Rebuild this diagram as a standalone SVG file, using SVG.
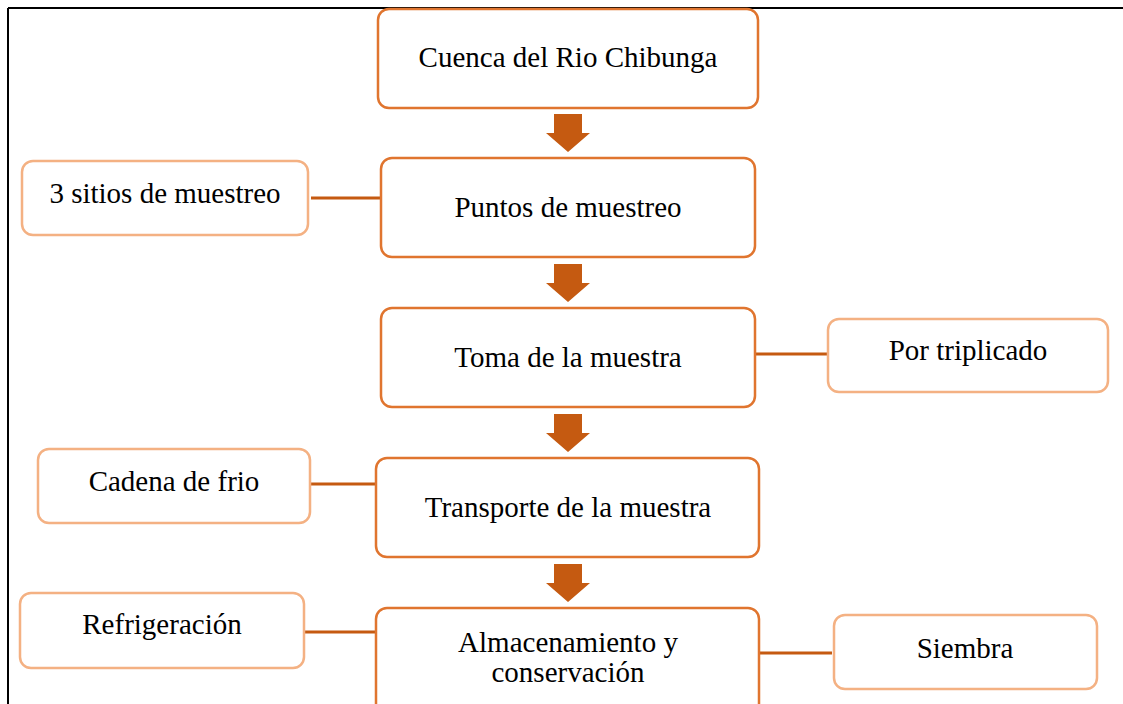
<svg xmlns="http://www.w3.org/2000/svg" width="1123" height="704" viewBox="0 0 1123 704">
<style>
.main{fill:#fff;stroke:#E0752F;stroke-width:2.5}
.side{fill:#fff;stroke:#F4B183;stroke-width:2.5}
.conn{stroke:#C55A11;stroke-width:3;fill:none}
.arr{fill:#C55A11}
text{font-family:"Liberation Serif","Times New Roman",serif;font-size:29px;fill:#000;text-anchor:middle}
</style>
<rect width="1123" height="704" fill="#fff"/>
<g id="frame">
<line x1="8" y1="8" x2="1123" y2="8" stroke="#000" stroke-width="2"/>
<line x1="8" y1="8" x2="8" y2="704" stroke="#000" stroke-width="2"/>
</g>
<g id="connectors">
<line class="conn" x1="311" y1="198" x2="381" y2="198"/>
<line class="conn" x1="755" y1="354" x2="828" y2="354"/>
<line class="conn" x1="308" y1="484" x2="376" y2="484"/>
<line class="conn" x1="305" y1="632" x2="376" y2="632"/>
<line class="conn" x1="759" y1="653" x2="832" y2="653"/>
<polygon class="arr" points="554,114 582,114 582,133 590,133 568,152 546,133 554,133"/>
<polygon class="arr" points="554,264 582,264 582,283 590,283 568,302 546,283 554,283"/>
<polygon class="arr" points="554,414 582,414 582,433 590,433 568,452 546,433 554,433"/>
<polygon class="arr" points="554,564 582,564 582,583 590,583 568,602 546,583 554,583"/>
</g>
<g id="n1"><rect class="main" x="378" y="9" width="380" height="99" rx="11"/><text x="568" y="67">Cuenca del Rio Chibunga</text></g>
<g id="n2"><rect class="main" x="381" y="158" width="374" height="99" rx="11"/><text x="568" y="217">Puntos de muestreo</text></g>
<g id="n3"><rect class="main" x="381" y="308" width="374" height="99" rx="11"/><text x="568" y="367">Toma de la muestra</text></g>
<g id="n4"><rect class="main" x="376" y="458" width="383" height="99" rx="11"/><text x="568" y="517">Transporte de la muestra</text></g>
<g id="n5"><rect class="main" x="376" y="608" width="383" height="120" rx="11"/><text x="568" y="652">Almacenamiento y</text><text x="568" y="682">conservación</text></g>
<g id="s1"><rect class="side" x="22" y="161" width="286" height="74" rx="11"/><text x="165" y="203">3 sitios de muestreo</text></g>
<g id="s2"><rect class="side" x="828" y="319" width="280" height="73" rx="11"/><text x="968" y="360">Por triplicado</text></g>
<g id="s3"><rect class="side" x="38" y="449" width="272" height="74" rx="11"/><text x="174" y="491">Cadena de frio</text></g>
<g id="s4"><rect class="side" x="20" y="593" width="284" height="75" rx="11"/><text x="162" y="634">Refrigeración</text></g>
<g id="s5"><rect class="side" x="834" y="615" width="263" height="74" rx="11"/><text x="965" y="658">Siembra</text></g>
</svg>
